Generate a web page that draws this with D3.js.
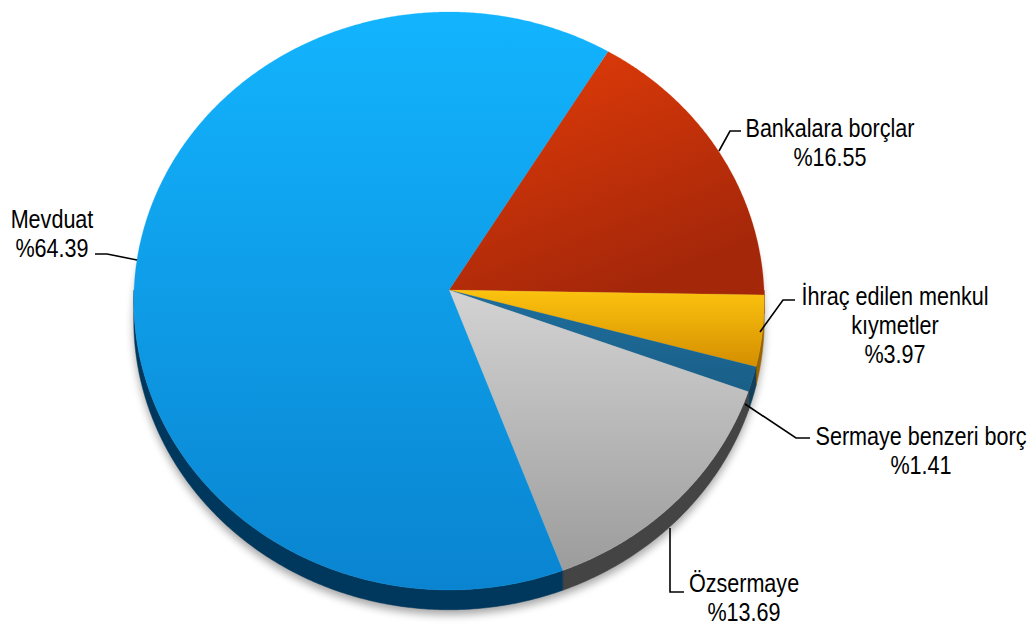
<!DOCTYPE html>
<html>
<head>
<meta charset="utf-8">
<script src="https://cdn.jsdelivr.net/npm/d3@7"></script>
<style>
  html, body { margin: 0; padding: 0; background: #ffffff; }
  svg { display: block; }
</style>
</head>
<body>
<svg id="chart" width="1030" height="629"></svg>
<script>
// Liability structure shares (%)
const categories = ["Bankalara borçlar", "İhraç edilen menkul\nkıymetler", "Sermaye benzeri borç", "Özsermaye", "Mevduat"];
const shares = [16.55, 3.97, 1.41, 13.69, 64.39];

// Fill colours for each slice: top face gradient (light, dark) and side wall
const topLight = ["#e53d08", "#fcc30f", "#1f6e9d", "#d3d3d3", "#13b4fe"];
const topDark  = ["#a5270a", "#d48e00", "#195f88", "#9c9c9c", "#0a84d0"];
const sideFill = ["#7a1d05", "#9a6400", "#123f5a", "#444444", "#00375c"];

// Label placement: text centre, first baseline, and leader polyline
const labelLayout = [
  { x: 830, y: 137, leader: [[719, 151], [730, 131], [741, 131]] },
  { x: 895, y: 305, leader: [[760, 332], [783, 300], [795, 300]] },
  { x: 921, y: 445, leader: [[745, 404], [796, 438], [810, 438]] },
  { x: 744, y: 592, leader: [[670, 528], [670, 592], [684, 592]] },
  { x: 52,  y: 228, leader: [[95, 254], [107, 254], [137, 260]] }
];

const svg = d3.select("#chart");
const defs = svg.append("defs");

// Tilted-disc geometry (slight perspective: near half is taller)
const cx = 449, cy = 290, rx = 315, ry = 288.6, persp = 0.038, depth = 19;
const deg = Math.PI / 180;

function proj(theta, r, dz) {
  const u = Math.sin(theta), v = -Math.cos(theta);
  const k = 1 / (1 - persp * v);
  return [cx + rx * u * r * k, cy + ry * v * r * k + (dz || 0) * k];
}

function rimPoints(a0, a1, dz) {
  const n = Math.max(2, Math.ceil((a1 - a0) / (0.4 * deg)));
  return d3.range(n + 1).map(i => proj(a0 + (a1 - a0) * i / n, 1, dz));
}

const pie = d3.pie().sort(null).value(d => d)
  .startAngle(31.4 * deg).endAngle(31.4 * deg + 2 * Math.PI);
const arcs = pie(shares);

// Gradients
arcs.forEach((a, i) => {
  const g = defs.append("linearGradient").attr("id", "g" + i)
    .attr("x1", "0").attr("y1", "0").attr("x2", i === 0 ? "0.5" : "0").attr("y2", "1");
  g.append("stop").attr("offset", "0").attr("stop-color", topLight[i]);
  g.append("stop").attr("offset", "1").attr("stop-color", topDark[i]);
});

// Soft shadow under the disc
const blur = defs.append("filter").attr("id", "shadowBlur")
  .attr("x", "-20%").attr("y", "-20%").attr("width", "140%").attr("height", "140%");
blur.append("feGaussianBlur").attr("stdDeviation", 4);

const line = d3.line();
const fullBottom = rimPoints(0, 2 * Math.PI, depth);
svg.append("path")
  .attr("d", line(fullBottom) + "Z")
  .attr("transform", "translate(0,5)")
  .attr("fill", "#000").attr("opacity", 0.35)
  .attr("filter", "url(#shadowBlur)");

// Side walls (front half only)
const gSide = svg.append("g");
arcs.forEach((a, i) => {
  const s = Math.max(a.startAngle, Math.PI / 2);
  const e = Math.min(a.endAngle, 3 * Math.PI / 2);
  if (e <= s) return;
  const upper = rimPoints(s, e, 0);
  const lower = rimPoints(s, e, depth).reverse();
  gSide.append("path")
    .attr("d", line(upper.concat(lower)) + "Z")
    .attr("fill", sideFill[i])
    .attr("stroke", sideFill[i]).attr("stroke-width", 0.5);
});

// Top faces
const gTop = svg.append("g");
arcs.forEach((a, i) => {
  const pts = [[cx, cy]].concat(rimPoints(a.startAngle, a.endAngle, 0));
  gTop.append("path")
    .attr("d", line(pts) + "Z")
    .attr("fill", "url(#g" + i + ")")
    .attr("stroke", topLight[i]).attr("stroke-width", 0.4).attr("stroke-opacity", 0.5);
});

// Leader lines
const gLead = svg.append("g");
labelLayout.forEach(l => {
  gLead.append("path")
    .attr("d", line(l.leader))
    .attr("fill", "none").attr("stroke", "#000").attr("stroke-width", 1.6);
});

// Labels: category name + percentage
const gLab = svg.append("g")
  .attr("font-family", "'Liberation Sans', Arial, sans-serif")
  .attr("font-size", 26).attr("fill", "#000");
categories.forEach((c, i) => {
  const lines = c.split("\n").concat(["%" + shares[i].toFixed(2)]);
  const l = labelLayout[i];
  const t = gLab.append("g")
    .attr("transform", `translate(${l.x},${l.y}) scale(0.83,1)`)
    .append("text").attr("text-anchor", "middle");
  lines.forEach((s, j) => {
    t.append("tspan").attr("x", 0).attr("y", j * 29).text(s);
  });
});
</script>
</body>
</html>
